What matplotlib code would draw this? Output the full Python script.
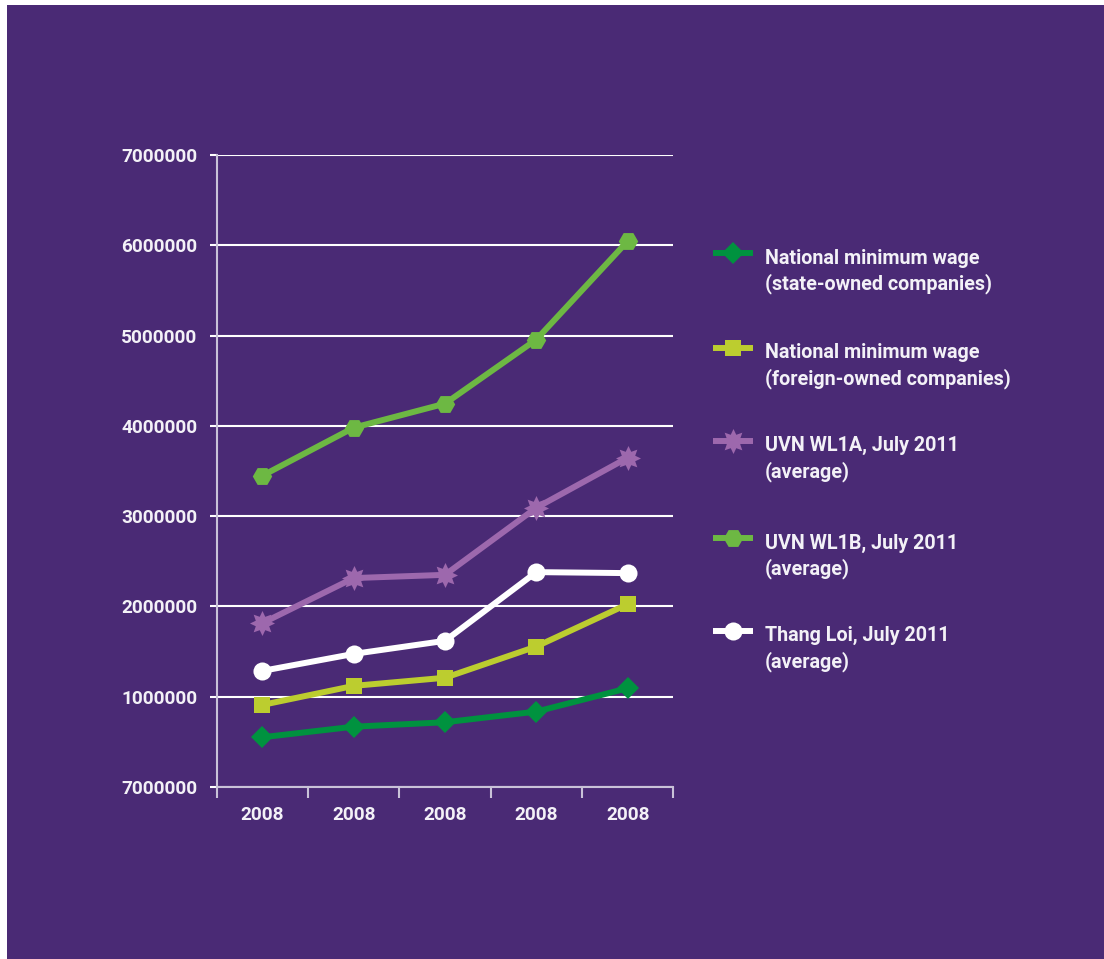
import numpy as np
import matplotlib
matplotlib.use("Agg")
import matplotlib.pyplot as plt
from matplotlib.lines import Line2D
from matplotlib.patches import Rectangle
from matplotlib.path import Path
from matplotlib.ticker import FixedLocator, FixedFormatter

# ---- data -------------------------------------------------------------
categories = ["2008", "2008", "2008", "2008", "2008"]
y_tick_values = [0, 1000000, 2000000, 3000000, 4000000, 5000000, 6000000, 7000000]
y_tick_labels = ["7000000", "1000000", "2000000", "3000000",
                 "4000000", "5000000", "6000000", "7000000"]

state_owned = [551000, 668000, 717000, 835000, 1094000]
foreign_owned = [909000, 1120000, 1210000, 1556000, 2025000]
uvn_wl1a = [1815000, 2314000, 2350000, 3093000, 3647000]
uvn_wl1b = [3448000, 3980000, 4246000, 4956000, 6046000]
thang_loi = [1286000, 1474000, 1619000, 2380000, 2369000]

labels = [
    ("National minimum wage", "(state-owned companies)"),
    ("National minimum wage", "(foreign-owned companies)"),
    ("UVN WL1A, July 2011", "(average)"),
    ("UVN WL1B, July 2011", "(average)"),
    ("Thang Loi, July 2011", "(average)"),
]

# ---- styling ----------------------------------------------------------
BG = "#4a2a75"
TXT = "#f3f1f7"
AXIS = "#c9c2d8"
FONT_W = "bold"
plt.rcParams["font.family"] = ["Roboto", "DejaVu Sans"]

# eight-pointed star marker
n = 8
ang = np.arange(2 * n) * np.pi / n + np.pi / 2
rad = np.where(np.arange(2 * n) % 2 == 0, 1.0, 0.58)
star_verts = np.column_stack([rad * np.cos(ang), rad * np.sin(ang)])
star_verts = np.vstack([star_verts, star_verts[:1]])
star = Path(star_verts, closed=True)

series = [
    (state_owned, "#00923f", "D", 11.5),
    (foreign_owned, "#bccd2f", "s", 11.5),
    (uvn_wl1a, "#9d68ad", star, 18),
    (uvn_wl1b, "#6db843", "H", 14),
    (thang_loi, "#ffffff", "o", 13),
]

W, H = 1104, 959
fig = plt.figure(figsize=(W / 100, H / 100), dpi=100)
fig.patch.set_facecolor("white")
fig.add_artist(Rectangle((7 / W, 0), 1 - 7 / W, 1 - 5 / H,
                         transform=fig.transFigure, facecolor=BG,
                         edgecolor="none", zorder=-10))

def fx(px):
    return px / W

def fy(py):
    return 1 - py / H

ax = fig.add_axes([fx(216.7), fy(787), fx(673.3) - fx(216.7), fy(155) - fy(787)])
ax.set_facecolor("none")

x = np.arange(len(categories))
for vals, color, marker, ms in series:
    ax.plot(x, vals, color=color, lw=4.3, marker=marker, ms=ms,
            markeredgewidth=0, solid_capstyle="butt", zorder=3, clip_on=False)

ax.set_xlim(-0.5, len(categories) - 0.5)
ax.set_ylim(0, 7000000)

ax.yaxis.set_major_locator(FixedLocator(y_tick_values))
ax.yaxis.set_major_formatter(FixedFormatter(y_tick_labels))
ax.grid(axis="y", color="white", lw=1.5, zorder=1)
ax.tick_params(axis="y", length=5, width=1.5, color="white", pad=9,
               labelcolor=TXT, labelsize=13.7)

ax.set_xticks(x)
ax.set_xticklabels(categories)
ax.set_xticks(np.arange(len(categories) + 1) - 0.5, minor=True)
ax.tick_params(axis="x", which="major", length=0, pad=14,
               labelcolor=TXT, labelsize=13.7)
ax.tick_params(axis="x", which="minor", length=8, width=1.5, color=AXIS)
for lab in ax.get_xticklabels() + ax.get_yticklabels():
    lab.set_fontweight(FONT_W)

for side in ("top", "right"):
    ax.spines[side].set_visible(False)
for side in ("left", "bottom"):
    ax.spines[side].set_color(AXIS)
    ax.spines[side].set_linewidth(1.5)
ax.spines["left"].set_zorder(2)

# legend beside the plot, each handle level with the first text line
handle_y = [253, 347.7, 440.7, 538.3, 630.7]
for (vals, color, marker, ms), (line1, line2), hy in zip(series, labels, handle_y):
    fig.add_artist(Line2D([fx(713), fx(733), fx(753)], [fy(hy)] * 3,
                          transform=fig.transFigure, color=color, lw=4.3,
                          marker=marker, ms=ms, markeredgewidth=0,
                          markevery=[1], solid_capstyle="butt"))
    fig.text(fx(765), fy(hy + 10.5), line1, color=TXT, fontsize=14.2,
             fontweight=FONT_W, va="baseline", ha="left")
    fig.text(fx(765), fy(hy + 36.5), line2, color=TXT, fontsize=14.2,
             fontweight=FONT_W, va="baseline", ha="left")

fig.savefig("out.png", dpi=100, facecolor=fig.get_facecolor())
